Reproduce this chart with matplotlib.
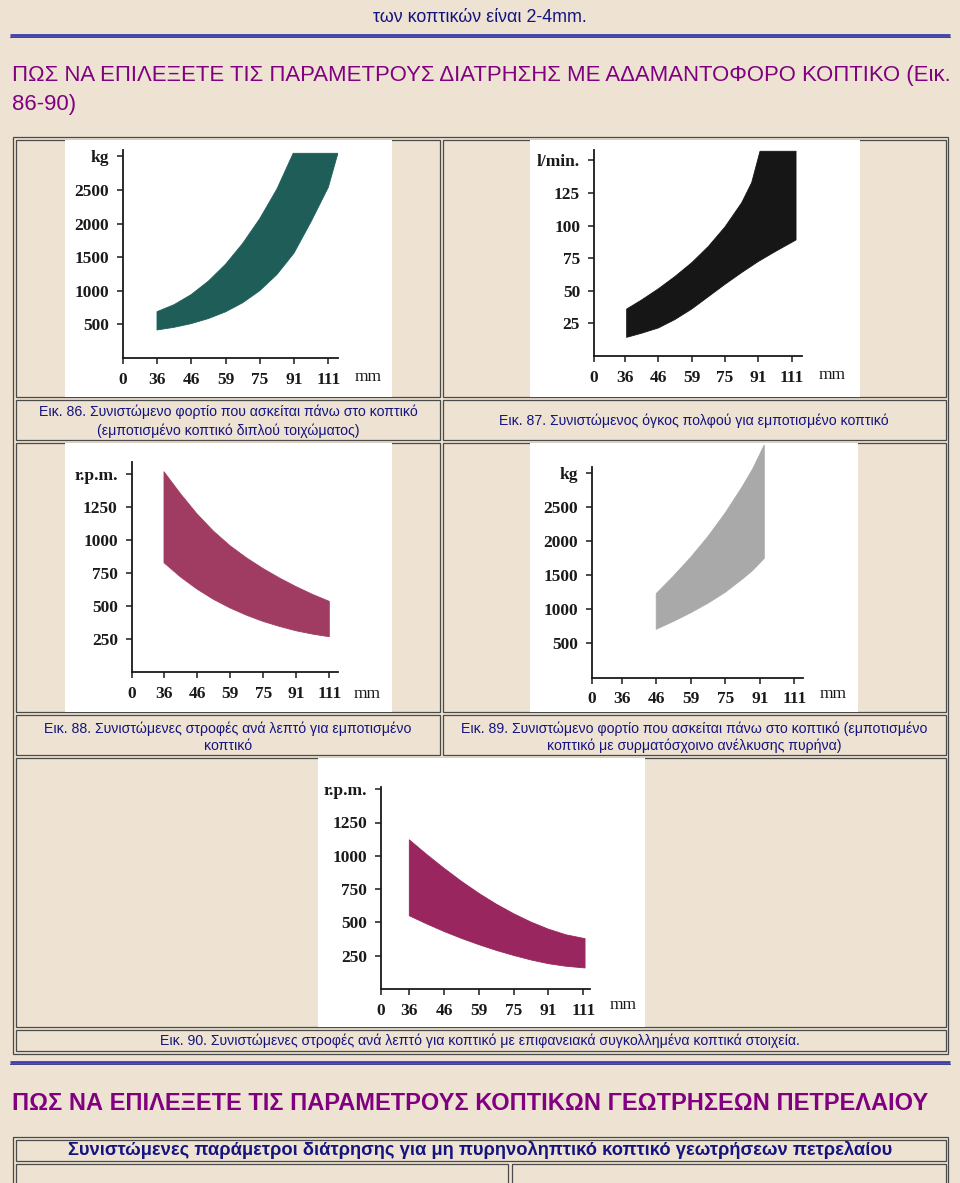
import matplotlib
matplotlib.use("Agg")
import matplotlib.pyplot as plt
import numpy as np
from matplotlib.patches import Rectangle

# ---------------- data ----------------
x_tick_mm = [36, 46, 59, 75, 91, 111]
x_tick_labels = ["0", "36", "46", "59", "75", "91", "111"]

# Fig. 86 - load (kg), double wall impregnated bit
fig86_mm_upper = [36, 41, 46, 52.5, 59, 67, 75, 83, 90.6]
fig86_kg_upper = [689, 794, 944, 1144, 1394, 1704, 2074, 2514, 3046]
fig86_mm_lower = [36, 41, 46, 52.5, 59, 67, 75, 83, 91, 101, 111, 116.6]
fig86_kg_lower = [417, 457, 512, 587, 687, 822, 1002, 1242, 1562, 2032, 2540, 3046]

# Fig. 87 - flushing volume (l/min)
fig87_mm_upper = [36.5, 41, 46, 52.5, 59, 67, 75, 83, 87.8, 92]
fig87_lpm_upper = [36, 43, 51.5, 61, 71.5, 84, 99, 117.5, 133, 157]
fig87_mm_lower = [36.5, 41, 46, 52.5, 59, 67, 75, 83, 91, 101, 113.6]
fig87_lpm_lower = [14.3, 17.5, 21.5, 28, 36, 45.5, 55, 64, 72.5, 80, 89]

# Fig. 88 - rpm, impregnated bit
fig88_mm = [36, 41, 46, 52.5, 59, 67, 75, 83, 91, 101, 111]
fig88_rpm_upper = [1517, 1350, 1197, 1066, 956, 864, 783, 711, 646, 587, 535]
fig88_rpm_lower = [828, 720, 628, 550, 485, 430, 383, 345, 312, 287, 267]

# Fig. 89 - load (kg), wireline bit
fig89_mm = [46, 52.5, 59, 67, 75, 83, 87.8, 93.6]
fig89_kg_upper = [1228, 1485, 1760, 2065, 2410, 2800, 3060, 3404]
fig89_kg_lower = [706, 822, 948, 1088, 1248, 1443, 1570, 1745]

# Fig. 90 - rpm, surface set bit
fig90_mm = [36, 41, 46, 52.5, 59, 67, 75, 83, 91, 101, 112]
fig90_rpm_upper = [1120, 1010, 906, 808, 718, 637, 565, 502, 449, 407, 378]
fig90_rpm_lower = [550, 489, 432, 380, 333, 290, 252, 218, 190, 171, 158]

kg_ticks = [500, 1000, 1500, 2000, 2500, 3000]
kg_labels = ["500", "1000", "1500", "2000", "2500", "kg"]
lpm_ticks = [25, 50, 75, 100, 125, 150]
lpm_labels = ["25", "50", "75", "100", "125", "l/min."]
rpm_ticks = [250, 500, 750, 1000, 1250, 1500]
rpm_labels = ["250", "500", "750", "1000", "1250", "r.p.m."]

top_text = "των κοπτικών είναι 2-4mm."
heading1_a = "ΠΩΣ ΝΑ ΕΠΙΛΕΞΕΤΕ ΤΙΣ ΠΑΡΑΜΕΤΡΟΥΣ ΔΙΑΤΡΗΣΗΣ ΜΕ ΑΔΑΜΑΝΤΟΦΟΡΟ ΚΟΠΤΙΚΟ (Εικ."
heading1_b = "86-90)"
cap86 = ["Εικ. 86. Συνιστώμενο φορτίο που ασκείται πάνω στο κοπτικό",
         "(εμποτισμένο κοπτικό διπλού τοιχώματος)"]
cap87 = ["Εικ. 87. Συνιστώμενος όγκος πολφού για εμποτισμένο κοπτικό"]
cap88 = ["Εικ. 88. Συνιστώμενες στροφές ανά λεπτό για εμποτισμένο",
         "κοπτικό"]
cap89 = ["Εικ. 89. Συνιστώμενο φορτίο που ασκείται πάνω στο κοπτικό (εμποτισμένο",
         "κοπτικό με συρματόσχοινο ανέλκυσης πυρήνα)"]
cap90 = ["Εικ. 90. Συνιστώμενες στροφές ανά λεπτό για κοπτικό με επιφανειακά συγκολλημένα κοπτικά στοιχεία."]
heading2 = "ΠΩΣ ΝΑ ΕΠΙΛΕΞΕΤΕ ΤΙΣ ΠΑΡΑΜΕΤΡΟΥΣ ΚΟΠΤΙΚΩΝ ΓΕΩΤΡΗΣΕΩΝ ΠΕΤΡΕΛΑΙΟΥ"
table2_title = "Συνιστώμενες παράμετροι διάτρησης για μη πυρηνοληπτικό κοπτικό γεωτρήσεων πετρελαίου"

# ---------------- figure ----------------
W, H = 960, 1183
PAGE_BG = "#eee3d3"
NAVY = "#14147f"
PURPLE = "#800080"
INK = "#1a1a1a"
fig = plt.figure(figsize=(W / 100, H / 100), dpi=100)
fig.patch.set_facecolor(PAGE_BG)
bg = fig.add_axes([0, 0, 1, 1])
bg.set_xlim(0, W)
bg.set_ylim(H, 0)
bg.axis("off")
renderer = fig.canvas.get_renderer()

SANS = ["Liberation Sans", "DejaVu Sans"]
SERIF = ["Liberation Serif", "DejaVu Serif"]
TICK_FS = 12.5


def fit_text(x, y, s, width_px, ha="left", **kw):
    t = bg.text(x, y, s, ha=ha, va="center", fontsize=10, family=SANS, **kw)
    w = t.get_window_extent(renderer).width
    t.set_fontsize(10 * width_px / w)
    return t


def rect(x0, y0, x1, y1, **kw):
    bg.add_patch(Rectangle((x0, y0), x1 - x0, y1 - y0, **kw))


def hrule(y):
    bg.plot([10, 950], [y, y], color="#3d3dae", lw=2.0, solid_capstyle="butt")
    bg.plot([10, 950], [y + 1.6, y + 1.6], color="#26267a", lw=0.6)


# top text and rule
fit_text(480, 17, top_text, 214, ha="center", color=NAVY)
hrule(35)
h1 = fit_text(12, 75, heading1_a, 938, color=PURPLE)
bg.text(12, 104, heading1_b, ha="left", va="center", family=SANS,
        fontsize=h1.get_fontsize(), color=PURPLE)

# table 1
BORDER = "#4a4a4a"
rect(13, 137, 948, 1054, fill=False, edgecolor=BORDER, lw=0.9)
cells = [(16, 140, 440, 397), (443, 140, 946, 397),
         (16, 400, 440, 440), (443, 400, 946, 440),
         (16, 443, 440, 712), (443, 443, 946, 712),
         (16, 715, 440, 755), (443, 715, 946, 755),
         (16, 758, 946, 1027), (16, 1030, 946, 1051)]
for c in cells:
    rect(*c, fill=False, edgecolor=BORDER, lw=0.9)

# captions
cs = fit_text(694, 421, cap87[0], 390, ha="center", color=NAVY).get_fontsize()


def caption(lines, xc, ys):
    for s, y in zip(lines, ys):
        bg.text(xc, y, s, ha="center", va="center", family=SANS, fontsize=cs, color=NAVY)


caption(cap86, 228, [412, 431])
caption(cap88, 228, [729, 746])
caption(cap89, 694, [729, 746])
caption(cap90, 480, [1041])

hrule(1062)
fit_text(12, 1104, heading2, 910, color=PURPLE, fontweight="bold")

# table 2
rect(13, 1137, 948, 1200, fill=False, edgecolor=BORDER, lw=0.9)
rect(16, 1140, 946, 1161, fill=False, edgecolor=BORDER, lw=0.9)
rect(16, 1164, 508, 1200, fill=False, edgecolor=BORDER, lw=0.9)
rect(512, 1164, 946, 1200, fill=False, edgecolor=BORDER, lw=0.9)
fit_text(480, 1150, table2_title, 820, ha="center", color=NAVY, fontweight="bold")


# ---------------- charts ----------------
def mm_to_pos(mm):
    mm = np.asarray(mm, float)
    pos = np.interp(mm, x_tick_mm, np.arange(1, 7))
    pos = np.where(mm > 111, 6 + (mm - 111) / 20.0, pos)
    pos = np.where(mm < 36, 1 + (mm - 36) / 10.0, pos)
    return pos


def chart(mm_u, v_u, mm_l, v_l, color, img, spine_x, x36, x111, x_end,
          y0, ppu, y_top, yticks, ylabels, mm_xy):
    rect(img[0], img[1], img[2], img[3], facecolor="white", edgecolor="none")
    dx = (x111 - x36) / 5.0

    def px_to_pos(p):
        return 1 + (p - x36) / dx

    ax = fig.add_axes([spine_x / W, 1 - y0 / H, (x_end - spine_x) / W, (y0 - img[1]) / H])
    ax.patch.set_alpha(0)
    xl = px_to_pos(spine_x)
    ax.set_xlim(xl, px_to_pos(x_end))
    ax.set_ylim(0, (y0 - img[1]) / ppu)
    xs = np.concatenate([mm_to_pos(mm_u), mm_to_pos([mm_l[-1]]), mm_to_pos(mm_l)[::-1]])
    ys = np.concatenate([v_u, [v_u[-1]], v_l[::-1]])
    ax.fill(xs, ys, facecolor=color, edgecolor=color, lw=0.6, joinstyle="round")
    for s in ("top", "right"):
        ax.spines[s].set_visible(False)
    for s in ("left", "bottom"):
        ax.spines[s].set_color(INK)
        ax.spines[s].set_linewidth(1.3)
    ax.spines["left"].set_bounds(0, (y0 - y_top) / ppu)
    ax.set_xticks([xl] + list(range(1, 7)))
    ax.set_xticklabels(x_tick_labels)
    ax.set_yticks(yticks)
    ax.set_yticklabels(ylabels)
    ax.tick_params(axis="both", direction="out", length=4, width=1.1,
                   color=INK, labelcolor=INK, labelsize=TICK_FS, pad=6)
    for lab in ax.get_xticklabels() + ax.get_yticklabels():
        lab.set_family(SERIF)
        lab.set_fontweight("bold")
    bg.text(mm_xy[0], mm_xy[1], "mm", ha="center", va="center", family=SERIF,
            fontsize=TICK_FS, color=INK)
    return ax


chart(fig86_mm_upper, fig86_kg_upper, fig86_mm_lower, fig86_kg_lower, "#1f5d59",
      (65, 140, 392, 397), 122.8, 157, 328.3, 338, 358, 33.6 / 500, 150,
      kg_ticks, kg_labels, (368, 377))
chart(fig87_mm_upper, fig87_lpm_upper, fig87_mm_lower, fig87_lpm_lower, "#161616",
      (530, 140, 860, 397), 594, 625, 791.7, 801.7, 356, 32.6 / 25, 150,
      lpm_ticks, lpm_labels, (832, 375))
chart(fig88_mm, fig88_rpm_upper, fig88_mm, fig88_rpm_lower, "#a03c62",
      (65, 443, 392, 712), 131.7, 164, 329.3, 338, 672, 33 / 250, 461.7,
      rpm_ticks, rpm_labels, (367, 694))
chart(fig89_mm, fig89_kg_upper, fig89_mm, fig89_kg_lower, "#a9a9a9",
      (530, 443, 858, 712), 591.7, 621.7, 794.3, 803.3, 677.5, 34.15 / 500, 467.3,
      kg_ticks, kg_labels, (833, 694))
chart(fig90_mm, fig90_rpm_upper, fig90_mm, fig90_rpm_lower, "#99265e",
      (318, 758, 645, 1027), 381, 409.3, 583.3, 590, 989, 33.3 / 250, 786.7,
      rpm_ticks, rpm_labels, (623, 1005))

fig.savefig("out.png", dpi=100, facecolor=PAGE_BG)
